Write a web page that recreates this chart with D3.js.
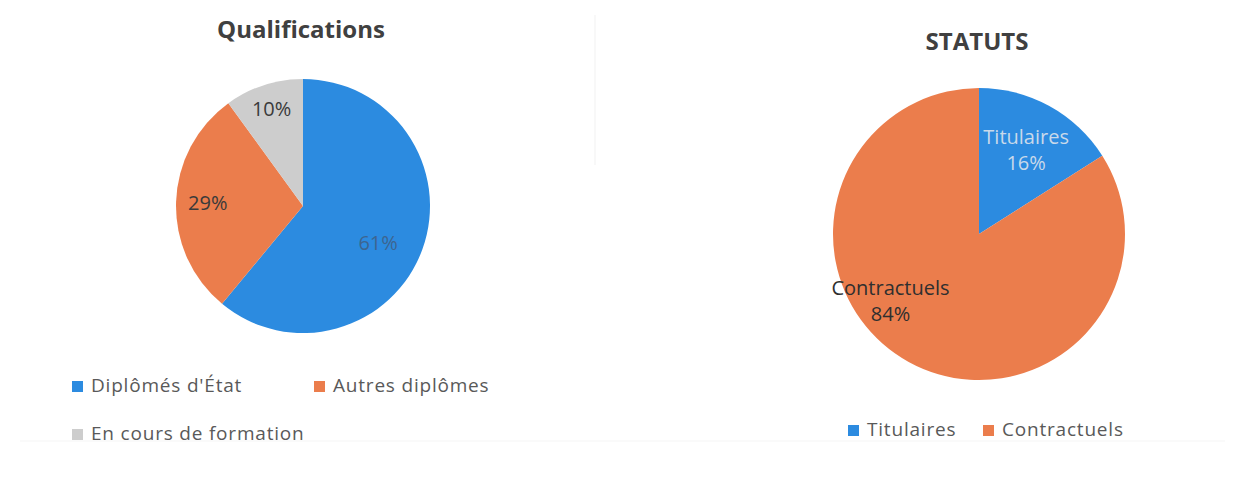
<!DOCTYPE html>
<html>
<head>
<meta charset="utf-8">
<script src="https://cdn.jsdelivr.net/npm/d3@7/dist/d3.min.js"></script>
<style>
  html, body { margin: 0; padding: 0; background: #fff; }
  svg { display: block; font-family: "Open Sans", "DejaVu Sans", sans-serif; }
</style>
</head>
<body>
<div id="chart"></div>
<script>
// Données
const qualifCategories = ["Diplômés d'État", "Autres diplômes", "En cours de formation"];
const qualifValues = [61, 29, 10];
const qualifColors = ["#2c8be0", "#eb7d4c", "#cdcdcd"];

const statutCategories = ["Titulaires", "Contractuels"];
const statutValues = [16, 84];
const statutColors = ["#2c8be0", "#eb7d4c"];

const W = 1234, H = 497;

const svg = d3.select('#chart')
  .append('svg')
  .attr('width', W)
  .attr('height', H);

// Cadres très pâles des deux graphiques
svg.append('line').attr('x1', 595).attr('x2', 595).attr('y1', 15).attr('y2', 165)
  .attr('stroke', '#f8f8f8').attr('stroke-width', 2);
svg.append('line').attr('x1', 20).attr('x2', 1225).attr('y1', 441).attr('y2', 441)
  .attr('stroke', '#f8f8f8').attr('stroke-width', 1.5);

function drawPie(opts) {
  const g = svg.append('g');
  const total = d3.sum(opts.values);
  const data = opts.values.map((v, i) => ({ name: opts.categories[i], value: v, color: opts.colors[i] }));

  const pie = d3.pie().sort(null).value(d => d.value);
  const arcs = pie(data);
  const arc = d3.arc().innerRadius(0).outerRadius(opts.r);

  // Titre
  g.append('text')
    .attr('x', opts.titleX)
    .attr('y', opts.titleY)
    .attr('text-anchor', 'middle')
    .attr('font-size', opts.titleSize)
    .attr('font-weight', 700)
    .attr('fill', '#404040')
    .text(opts.title);

  const pg = g.append('g').attr('transform', `translate(${opts.cx},${opts.cy})`);

  pg.selectAll('path')
    .data(arcs)
    .enter()
    .append('path')
    .attr('d', arc)
    .attr('fill', d => d.data.color);

  // Étiquettes
  const labels = pg.selectAll('text.lbl')
    .data(arcs)
    .enter()
    .append('text')
    .attr('class', 'lbl')
    .attr('text-anchor', 'middle')
    .attr('font-size', 20)
    .attr('fill', (d, i) => opts.labelColors[i])
    .attr('transform', (d, i) => {
      const f = opts.labelFrac[i];
      const a = d.startAngle + (d.endAngle - d.startAngle) * f;
      const rr = opts.r * opts.labelR[i];
      return `translate(${Math.sin(a) * rr},${-Math.cos(a) * rr})`;
    });

  labels.each(function (d) {
    const t = d3.select(this);
    const pct = Math.round(d.data.value / total * 100) + '%';
    if (opts.showName) {
      t.append('tspan').attr('x', 0).attr('dy', '-0.2em').text(d.data.name);
      t.append('tspan').attr('x', 0).attr('dy', '1.3em').text(pct);
    } else {
      t.append('tspan').attr('x', 0).attr('dy', '0.35em').text(pct);
    }
  });

  // Légende
  const lg = g.selectAll('g.leg')
    .data(data)
    .enter()
    .append('g')
    .attr('class', 'leg')
    .attr('transform', (d, i) => `translate(${opts.legendPos[i][0]},${opts.legendPos[i][1]})`);

  lg.append('rect')
    .attr('x', 0).attr('y', -11)
    .attr('width', 11).attr('height', 11)
    .attr('fill', d => d.color);

  lg.append('text')
    .attr('x', 19)
    .attr('y', 0)
    .attr('font-size', 19)
    .attr('letter-spacing', 0.8)
    .attr('fill', '#595959')
    .text(d => d.name);
}

drawPie({
  title: 'Qualifications', titleX: 301, titleY: 38, titleSize: 24,
  categories: qualifCategories, values: qualifValues, colors: qualifColors,
  cx: 303, cy: 206, r: 127,
  labelR: [0.66, 0.75, 0.8], labelFrac: [0.53, 0.5, 0.5],
  labelColors: ['#3d6590', '#3a3a3a', '#3a3a3a'],
  showName: false,
  legendPos: [[72, 392], [314, 392], [72, 440]]
});

drawPie({
  title: 'STATUTS', titleX: 977, titleY: 50, titleSize: 24,
  categories: statutCategories, values: statutValues, colors: statutColors,
  cx: 979, cy: 234, r: 146,
  labelR: [0.67, 0.75], labelFrac: [0.5, 0.583],
  labelColors: ['#c9d9ea', '#2f2f2f'],
  showName: true,
  legendPos: [[848, 436], [983, 436]]
});
</script>
</body>
</html>
